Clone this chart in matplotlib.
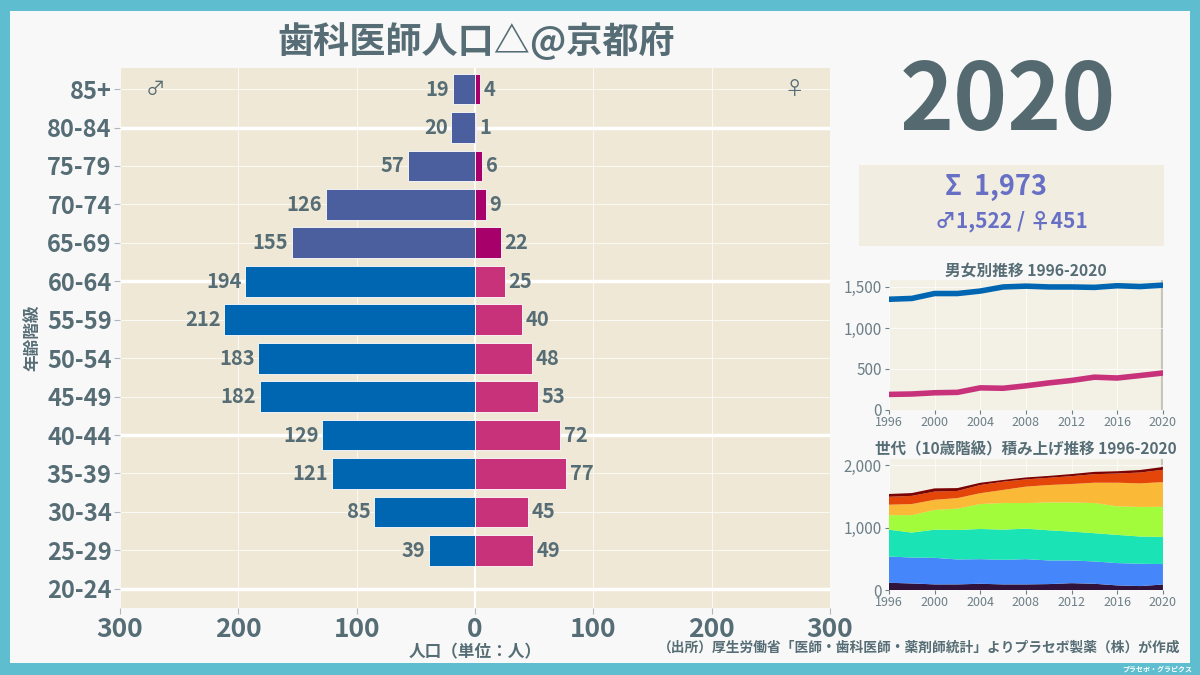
import numpy as np
import matplotlib.pyplot as plt
from matplotlib.patches import Rectangle

plt.rcParams['font.family'] = ['Noto Sans CJK JP', 'DejaVu Sans']

# ---- data ----
ages = ['20-24', '25-29', '30-34', '35-39', '40-44', '45-49', '50-54',
        '55-59', '60-64', '65-69', '70-74', '75-79', '80-84', '85+']
male = [0, 39, 85, 121, 129, 182, 183, 212, 194, 155, 126, 57, 20, 19]
female = [0, 49, 45, 77, 72, 53, 48, 40, 25, 22, 9, 6, 1, 4]

years = [1996, 1998, 2000, 2002, 2004, 2006, 2008, 2010, 2012, 2014, 2016, 2018, 2020]
male_trend = [1350, 1360, 1420, 1420, 1450, 1500, 1510, 1500, 1500, 1495, 1515, 1505, 1522]
female_trend = [190, 195, 210, 215, 270, 265, 295, 330, 360, 400, 390, 420, 451]

gen_20s = [116, 105, 90, 90, 100, 90, 90, 95, 110, 100, 74, 63, 88]
gen_30s = [421, 416, 426, 400, 395, 394, 405, 379, 364, 358, 358, 358, 328]
gen_40s = [431, 400, 452, 473, 484, 484, 489, 484, 463, 453, 452, 437, 436]
gen_50s = [232, 279, 316, 342, 400, 427, 411, 447, 468, 484, 458, 474, 483]
gen_60s = [168, 179, 163, 169, 174, 210, 263, 279, 295, 326, 379, 378, 396]
gen_70s = [127, 131, 132, 115, 131, 132, 116, 116, 126, 137, 147, 174, 198]
gen_80s = [45, 45, 51, 46, 36, 28, 31, 30, 34, 37, 37, 41, 44]

TXT = '#566d75'
BG = '#efe8d6'

fig = plt.figure(figsize=(12, 6.75), dpi=100)
fig.patch.set_facecolor('#5fbdd0')
fig.add_artist(Rectangle((10 / 1200, 12 / 675), 1180 / 1200, 652 / 675,
                         transform=fig.transFigure, facecolor='#f8f8f8',
                         edgecolor='none', zorder=-10))

# ===========================
# pyramid
# ===========================
ax = fig.add_axes([0.1, 0.0993, 0.5917, 0.80])
ax.set_facecolor(BG)
y = np.arange(len(ages))
mcol = ['#0066b2' if i < 9 else '#4b5e9e' for i in range(len(ages))]
fcol = ['#c7327a' if i < 9 else '#a8006a' for i in range(len(ages))]
ax.barh(y, [-m for m in male], height=0.8, color=mcol, edgecolor='white', linewidth=0.6, zorder=3)
ax.barh(y, female, height=0.8, color=fcol, edgecolor='white', linewidth=0.6, zorder=3)

for i in range(len(ages)):
    if male[i] == 0 and female[i] == 0:
        continue
    ax.text(-male[i] - 3, y[i], str(male[i]), ha='right', va='center',
            fontsize=14.5, fontweight='bold', color=TXT, zorder=4)
    ax.text(female[i] + 3, y[i], str(female[i]), ha='left', va='center',
            fontsize=14.5, fontweight='bold', color=TXT, zorder=4)

ax.set_xlim(-300, 300)
ax.set_ylim(-0.5, 13.55)
ax.set_yticks(y)
ax.set_yticklabels(ages, fontsize=17, fontweight='bold', color=TXT)
xt = [-300, -200, -100, 0, 100, 200, 300]
ax.set_xticks(xt)
ax.set_xticklabels([str(abs(v)) for v in xt], fontsize=19, fontweight='bold', color=TXT)
ax.tick_params(axis='both', length=4, color='#b0b8bc', pad=2)
ax.grid(True, color='white', linewidth=0.8, alpha=0.7, zorder=0)
for yy in [0, 4, 8, 12]:
    ax.axhline(yy, color='white', linewidth=2.5, zorder=1)
ax.axvline(0, color='white', linewidth=1.5, zorder=1)
for s in ax.spines.values():
    s.set_visible(False)
ax.set_xlabel('人口（単位：人）', fontsize=12, fontweight='bold', color=TXT, labelpad=0)
ax.set_ylabel('年齢階級', fontsize=12, fontweight='bold', color=TXT, labelpad=4)
ax.text(-270, 13, '♂', ha='center', va='center', fontsize=14, color=TXT)
ax.text(270, 13, '♀', ha='center', va='center', fontsize=14, color=TXT)

fig.text(476 / 1200, 1 - 42 / 675, '歯科医師人口△@京都府', ha='center', va='center',
         fontsize=26, fontweight='bold', color=TXT)

# ===========================
# year and totals
# ===========================
fig.text(1008 / 1200, 1 - 103 / 675, '2020', ha='center', va='center',
         fontsize=66, fontweight='bold', color='#546a70')
fig.add_artist(Rectangle((859 / 1200, 1 - 246 / 675), 305 / 1200, 81 / 675,
                         transform=fig.transFigure, facecolor='#f1ede1', edgecolor='none'))
tot_m = male_trend[-1]
tot_f = female_trend[-1]
fig.text(996 / 1200, 1 - 187 / 675, 'Σ  {:,}'.format(tot_m + tot_f), ha='center', va='center',
         fontsize=19.5, fontweight='bold', color='#6870c6')
fig.text(1011 / 1200, 1 - 221 / 675, '♂{:,} / ♀{:,}'.format(tot_m, tot_f), ha='center', va='center',
         fontsize=15, fontweight='bold', color='#6870c6')


def small_axes(a):
    a.set_facecolor('#f3f0e5')
    a.set_xlim(1996, 2020)
    a.set_xticks([1996, 2000, 2004, 2008, 2012, 2016, 2020])
    a.tick_params(axis='x', labelsize=9, colors='#6d7f87', length=3, pad=1)
    a.tick_params(axis='y', colors='#6d7f87', length=3, pad=2)
    a.grid(True, color='white', linewidth=0.6, alpha=0.8)
    for s in a.spines.values():
        s.set_visible(False)
    a.axvline(2020, color='#c8c4b8', linewidth=3, zorder=1)


# ===========================
# trend by sex
# ===========================
ax2 = fig.add_axes([0.7408, 0.3926, 0.2283, 0.1926])
small_axes(ax2)
ax2.plot(years, male_trend, color='#0066b2', linewidth=4, zorder=3)
ax2.plot(years, female_trend, color='#c7327a', linewidth=4, zorder=3)
ax2.set_ylim(0, 1585)
ax2.set_yticks([0, 500, 1000, 1500])
ax2.set_yticklabels(['0', '500', '1,000', '1,500'], fontsize=11)
ax2.set_title('男女別推移 1996-2020', fontsize=11.3, fontweight='bold', color=TXT, pad=3)

# ===========================
# stacked generations
# ===========================
ax3 = fig.add_axes([0.7408, 0.1259, 0.2283, 0.194])
small_axes(ax3)
gens = [gen_20s, gen_30s, gen_40s, gen_50s, gen_60s, gen_70s, gen_80s]
gcols = ['#30123b', '#4686fb', '#1ae4b6', '#a2fc3c', '#fbb938', '#e4460a', '#7a0403']
ax3.stackplot(years, gens, colors=gcols, linewidth=0, zorder=2)
ax3.set_ylim(0, 2100)
ax3.set_yticks([0, 1000, 2000])
ax3.set_yticklabels(['0', '1,000', '2,000'], fontsize=11)
ax3.set_title('世代（10歳階級）積み上げ推移 1996-2020', fontsize=11.2, fontweight='bold', color=TXT, pad=3)

fig.text(1180 / 1200, 1 - 648 / 675, '（出所）厚生労働省「医師・歯科医師・薬剤師統計」よりプラセボ製薬（株）が作成',
         ha='right', va='center', fontsize=9.9, fontweight='bold', color=TXT)
fig.text(1192 / 1200, 1 - 669 / 675, 'プラセボ・グラピクス', ha='right', va='center',
         fontsize=5, fontweight='bold', color='white')

fig.savefig('out.png', dpi=100, facecolor=fig.get_facecolor())
